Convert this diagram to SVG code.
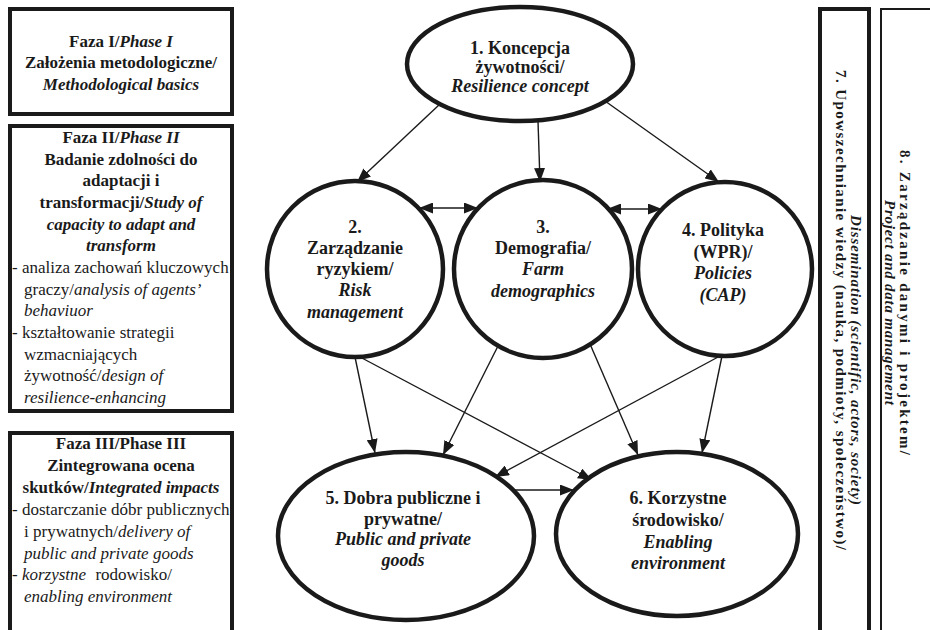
<svg xmlns="http://www.w3.org/2000/svg" width="930" height="630" viewBox="0 0 930 630" font-family="Liberation Serif">
<defs>
<style>
text{fill:#1a1a1a;}
.t{font-size:17px;}
.c{font-size:18px;font-weight:bold;text-anchor:middle;}
.b{font-weight:bold;}
.i{font-style:italic;}
.v{font-size:15px;font-weight:bold;}
.box{fill:#fff;stroke:#1a1a1a;stroke-width:4;}
.thin{fill:#fff;stroke:#1a1a1a;stroke-width:2;}
.node{fill:#fff;stroke:#1a1a1a;stroke-width:4.5;}
.con{fill:none;stroke:#1a1a1a;stroke-width:1.4;marker-end:url(#ah);}
.dbl{marker-start:url(#ah);}
</style>
<marker id="ah" markerWidth="14" markerHeight="11" refX="14" refY="5.5" orient="auto-start-reverse" markerUnits="userSpaceOnUse"><path d="M0,0 L14,5.5 L0,11 z" fill="#1a1a1a"/></marker>
</defs>
<rect width="930" height="630" fill="#fff"/>

<g id="phase1" font-family="Liberation Serif">
<rect class="box" x="10" y="9" width="222" height="105"/>
<text class="t b" x="121" y="47" text-anchor="middle">Faza I/<tspan class="i">Phase I</tspan></text>
<text class="t b" x="121" y="68" text-anchor="middle">Założenia metodologiczne/</text>
<text class="t b i" x="121" y="90" text-anchor="middle">Methodological basics</text>
</g>

<g id="phase2" font-family="Liberation Serif">
<rect class="box" x="10" y="126" width="222" height="285"/>
<text class="t b" x="121" y="143" text-anchor="middle">Faza II/<tspan class="i">Phase II</tspan></text>
<text class="t b" x="121" y="165" text-anchor="middle">Badanie zdolności do</text>
<text class="t b" x="121" y="186" text-anchor="middle">adaptacji i</text>
<text class="t b" x="121" y="208" text-anchor="middle">transformacji/<tspan class="i">Study of</tspan></text>
<text class="t b i" x="121" y="230" text-anchor="middle">capacity to adapt and</text>
<text class="t b i" x="121" y="251" text-anchor="middle">transform</text>
<text class="t" x="12" y="273">- analiza zachowań kluczowych</text>
<text class="t" x="24" y="295">graczy/<tspan class="i">analysis of agents’</tspan></text>
<text class="t i" x="24" y="316">behaviuor</text>
<text class="t" x="12" y="338">- kształtowanie strategii</text>
<text class="t" x="24" y="360">wzmacniających</text>
<text class="t" x="24" y="381">żywotność/<tspan class="i">design of</tspan></text>
<text class="t i" x="24" y="403">resilience-enhancing</text>
</g>

<g id="phase3" font-family="Liberation Serif">
<rect class="box" x="10" y="433" width="222" height="210"/>
<text class="t b" x="121" y="449" text-anchor="middle">Faza III/Phase III</text>
<text class="t b" x="121" y="471" text-anchor="middle">Zintegrowana ocena</text>
<text class="t b" x="121" y="493" text-anchor="middle">skutków/<tspan class="i">Integrated impacts</tspan></text>
<text class="t" x="12" y="515">- dostarczanie dóbr publicznych</text>
<text class="t" x="24" y="537">i prywatnych/<tspan class="i">delivery of</tspan></text>
<text class="t i" x="24" y="559">public and private goods</text>
<text class="t" x="12" y="580">- <tspan class="i">korzystne</tspan><tspan dx="5"> rodowisko/</tspan></text>
<text class="t i" x="24" y="602">enabling environment</text>
</g>

<g id="connectors">
<path class="con" d="M440,104 L357,182"/>
<path class="con" d="M538,121 L540,182"/>
<path class="con" d="M605,101 L719,182"/>
<path class="con dbl" d="M419,208 L478,208"/>
<path class="con dbl" d="M607,209 L662,209"/>
<path class="con" d="M355,357 L375,453"/>
<path class="con" d="M360,357 L592,480"/>
<path class="con" d="M498,346 L443,455"/>
<path class="con" d="M590,344 L638,455"/>
<path class="con" d="M720,356 L495,477"/>
<path class="con" d="M722,356 L702,453"/>
<path class="con" d="M514,490 L574,490"/>
</g>

<g id="n1" font-family="Liberation Serif">
<ellipse class="node" cx="520" cy="64" rx="113" ry="57"/>
<text class="c" x="520" y="54">1. Koncepcja</text>
<text class="c" x="520" y="73">żywotności/</text>
<text class="c i" x="520" y="92">Resilience concept</text>
</g>

<g id="n2" font-family="Liberation Serif">
<circle class="node" cx="355" cy="269" r="88"/>
<text class="c" x="355" y="233">2.</text>
<text class="c" x="355" y="254">Zarządzanie</text>
<text class="c" x="355" y="275">ryzykiem/</text>
<text class="c i" x="355" y="296">Risk</text>
<text class="c i" x="355" y="318">management</text>
</g>

<g id="n3" font-family="Liberation Serif">
<circle class="node" cx="543" cy="269" r="89"/>
<text class="c" x="543" y="233">3.</text>
<text class="c" x="543" y="254">Demografia/</text>
<text class="c i" x="543" y="275">Farm</text>
<text class="c i" x="543" y="297">demographics</text>
</g>

<g id="n4" font-family="Liberation Serif">
<circle class="node" cx="725" cy="269" r="87"/>
<text class="c" x="723" y="236">4. Polityka</text>
<text class="c" x="723" y="258">(WPR)/</text>
<text class="c i" x="723" y="279">Policies</text>
<text class="c i" x="723" y="301">(CAP)</text>
</g>

<g id="n5" font-family="Liberation Serif">
<ellipse class="node" cx="406" cy="536" rx="128" ry="84"/>
<text class="c" x="403" y="504">5. Dobra publiczne i</text>
<text class="c" x="403" y="525">prywatne/</text>
<text class="c i" x="403" y="545">Public and private</text>
<text class="c i" x="403" y="566">goods</text>
</g>

<g id="n6" font-family="Liberation Serif">
<ellipse class="node" cx="677" cy="534" rx="121" ry="82"/>
<text class="c" x="678" y="504">6. Korzystne</text>
<text class="c" x="678" y="526">środowisko/</text>
<text class="c i" x="678" y="548">Enabling</text>
<text class="c i" x="678" y="569">environment</text>
</g>

<g id="n7" font-family="Liberation Serif">
<rect class="box" x="820" y="9" width="49" height="640"/>
<text class="v" transform="translate(836,70) rotate(90)" textLength="480" lengthAdjust="spacing">7. Upowszechnianie wiedzy (nauka, podmioty, społeczeństwo)/</text>
<text class="v i" transform="translate(851,215) rotate(90)" textLength="290" lengthAdjust="spacing">Dissemination (scientific, actors, society)</text>
</g>

<g id="n8" font-family="Liberation Serif">
<rect class="thin" x="881" y="9" width="70" height="640"/>
<text class="v" font-size="16" transform="translate(900,150) rotate(90)" textLength="305" lengthAdjust="spacing">8. Zarządzanie danymi i projektem/</text>
<text class="v i" font-size="16" transform="translate(885,200) rotate(90)" textLength="205" lengthAdjust="spacing">Project and data management</text>
</g>
</svg>
